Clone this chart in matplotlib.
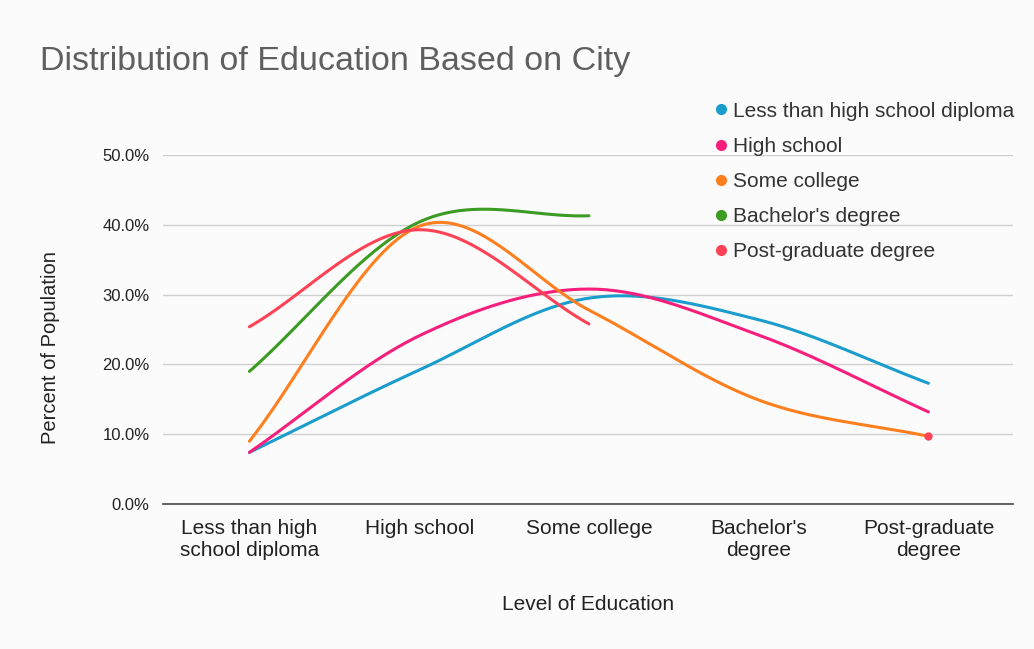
import numpy as np
import matplotlib.pyplot as plt

plt.rcParams['font.family'] = ['Liberation Sans', 'DejaVu Sans']

categories = ["Less than high\nschool diploma", "High school", "Some college",
              "Bachelor's\ndegree", "Post-graduate\ndegree"]

less_than_hs = [7.4, 19.2, 29.5, 26.4, 17.3]
high_school = [7.4, 24.1, 30.8, 24.2, 13.2]
some_college = [9.0, 39.8, 27.8, 14.9, 9.7]
bachelors = [19.0, 40.4, 41.3, np.nan, np.nan]
post_grad = [25.4, 39.3, 25.8, np.nan, 9.8]

series_names = ["Less than high school diploma", "High school", "Some college",
                "Bachelor's degree", "Post-graduate degree"]
series_values = [less_than_hs, high_school, some_college, bachelors, post_grad]
colors = ["#1a9dcc", "#f71f7c", "#ff7f1e", "#3b9b22", "#ff4256"]


def smooth(x, y, n=40):
    # Catmull-Rom through the points, like the sheet's "smooth" option
    x = np.asarray(x, float)
    y = np.asarray(y, float)
    if len(x) < 2:
        return x, y
    px = np.concatenate([[2 * x[0] - x[1]], x, [2 * x[-1] - x[-2]]])
    py = np.concatenate([[2 * y[0] - y[1]], y, [2 * y[-1] - y[-2]]])
    xs, ys = [], []
    t = np.linspace(0, 1, n)
    for i in range(1, len(px) - 2):
        p0, p1, p2, p3 = py[i - 1], py[i], py[i + 1], py[i + 2]
        m1 = (p2 - p0) / 2
        m2 = (p3 - p1) / 2
        h00 = 2 * t**3 - 3 * t**2 + 1
        h10 = t**3 - 2 * t**2 + t
        h01 = -2 * t**3 + 3 * t**2
        h11 = t**3 - t**2
        ys.append(h00 * p1 + h10 * m1 + h01 * p2 + h11 * m2)
        xs.append(px[i] + t * (px[i + 1] - px[i]))
    return np.concatenate(xs), np.concatenate(ys)


fig = plt.figure(figsize=(10.34, 6.49), dpi=100, facecolor="#fbfbfb")
ax = fig.add_axes([0.158, 0.2234, 0.822, 0.5377])
ax.set_facecolor("#fbfbfb")

x = np.arange(len(categories))
for name, vals, c in zip(series_names, series_values, colors):
    vals = np.asarray(vals, float)
    ok = ~np.isnan(vals)
    # split into runs of existing points
    runs, cur = [], []
    for i in range(len(vals)):
        if ok[i]:
            cur.append(i)
        elif cur:
            runs.append(cur)
            cur = []
    if cur:
        runs.append(cur)
    for r in runs:
        if len(r) == 1:
            ax.plot(x[r], vals[r], "o", color=c, markersize=5, zorder=3)
        else:
            sx, sy = smooth(x[r], vals[r])
            ax.plot(sx, sy, color=c, lw=2.2, solid_capstyle="round", zorder=3)
    ax.plot([], [], "o", color=c, markersize=7, label=name)

ax.set_xlim(-0.507, 4.5)
ax.set_ylim(0, 50)
ax.set_yticks([0, 10, 20, 30, 40, 50])
ax.set_yticklabels([f"{v:.1f}%" for v in [0, 10, 20, 30, 40, 50]])
ax.yaxis.grid(True, color="#cfcfcf", lw=1)
ax.set_axisbelow(True)
ax.set_xticks(x)
ax.set_xticklabels(categories, linespacing=1.2)
ax.tick_params(axis="both", length=0, colors="#222222")
ax.tick_params(axis="y", labelsize=12, pad=10)
ax.tick_params(axis="x", labelsize=15, pad=11)
for s in ["top", "right", "left"]:
    ax.spines[s].set_visible(False)
ax.spines["bottom"].set_color("#555555")
ax.spines["bottom"].set_linewidth(1.3)

ax.set_xlabel("Level of Education", fontsize=15, color="#222222", va="center")
ax.xaxis.set_label_coords(0.5, -0.289)
ax.set_ylabel("Percent of Population", fontsize=14.5, color="#222222", va="center")
ax.yaxis.set_label_coords(-0.133, 0.448)

fig.text(0.039, 0.905, "Distribution of Education Based on City", fontsize=24.5,
         color="#5f5f5f", va="center")

leg = fig.legend(loc="upper left", bbox_to_anchor=(0.683, 0.856), frameon=False,
                 fontsize=15, handlelength=0.6, handletextpad=0.3,
                 labelspacing=0.77, borderaxespad=0)
for t in leg.get_texts():
    t.set_color("#333333")

fig.savefig("out.png", dpi=100, facecolor=fig.get_facecolor())
